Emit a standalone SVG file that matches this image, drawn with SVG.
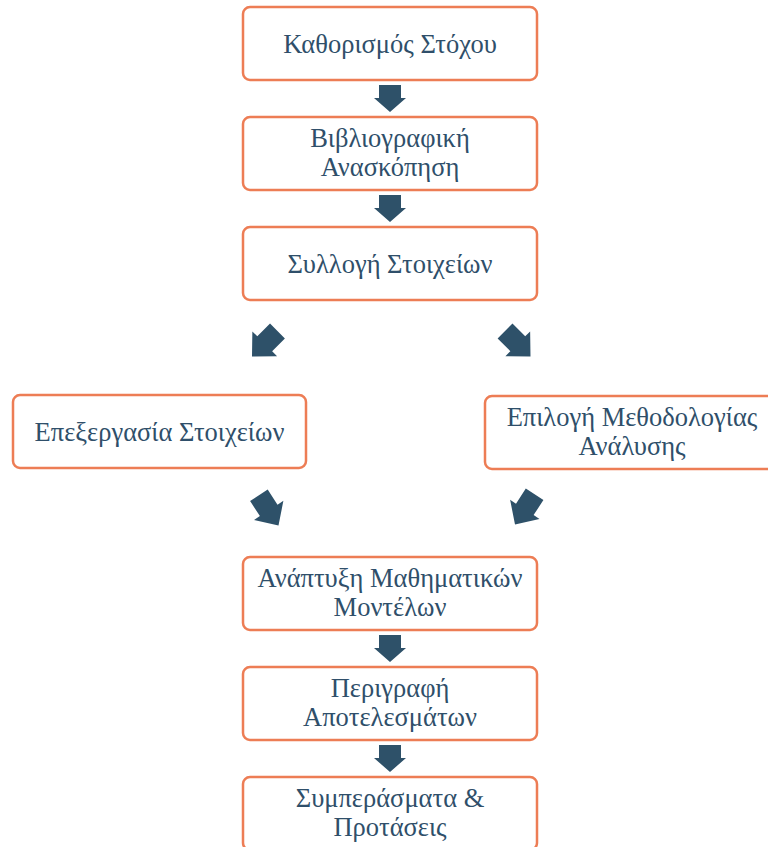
<svg xmlns="http://www.w3.org/2000/svg" width="768" height="847" viewBox="0 0 768 847">
<style>
.box{fill:#ffffff;stroke:#ED7D55;stroke-width:2.5}
.lbl{font-family:"Liberation Serif","Times New Roman",serif;font-size:26.5px;fill:#2F4F6A;text-anchor:middle}
.arr{fill:#2E5169}
</style>
<defs>
<polygon id="down" points="-11,-27 11,-27 11,-14 16,-14 0,0 -16,-14 -11,-14"/>
<polygon id="diag" points="-10.5,-36 10.5,-36 10.5,-18 17.5,-18 0,0 -17.5,-18 -10.5,-18"/>
</defs>
<g id="connectors">
<use href="#down" class="arr" transform="translate(390,112)"/>
<use href="#down" class="arr" transform="translate(390,222)"/>
<use href="#diag" class="arr" transform="translate(252,356.5) rotate(45)"/>
<use href="#diag" class="arr" transform="translate(530.5,356.5) rotate(-45)"/>
<use href="#diag" class="arr" transform="translate(278.5,525.5) rotate(-33)"/>
<use href="#diag" class="arr" transform="translate(515,524.5) rotate(33)"/>
<use href="#down" class="arr" transform="translate(390,662)"/>
<use href="#down" class="arr" transform="translate(390,772)"/>
</g>
<g id="n1"><rect class="box" x="243" y="7" width="294" height="73" rx="7"/><text class="lbl" x="390" y="53">Καθορισμός Στόχου</text></g>
<g id="n2"><rect class="box" x="243" y="117" width="294" height="73" rx="7"/><text class="lbl" x="390" y="147">Βιβλιογραφική</text><text class="lbl" x="390" y="176">Ανασκόπηση</text></g>
<g id="n3"><rect class="box" x="243" y="227" width="294" height="73" rx="7"/><text class="lbl" x="390" y="273">Συλλογή Στοιχείων</text></g>
<g id="n4"><rect class="box" x="13" y="395" width="293" height="73" rx="7"/><text class="lbl" x="159.5" y="441">Επεξεργασία Στοιχείων</text></g>
<g id="n5"><rect class="box" x="485" y="396" width="294" height="73" rx="7"/><text class="lbl" x="632" y="426">Επιλογή Μεθοδολογίας</text><text class="lbl" x="632" y="455">Ανάλυσης</text></g>
<g id="n6"><rect class="box" x="243" y="557" width="294" height="73" rx="7"/><text class="lbl" x="390" y="587">Ανάπτυξη Μαθηματικών</text><text class="lbl" x="390" y="616">Μοντέλων</text></g>
<g id="n7"><rect class="box" x="243" y="667" width="294" height="73" rx="7"/><text class="lbl" x="390" y="697">Περιγραφή</text><text class="lbl" x="390" y="726">Αποτελεσμάτων</text></g>
<g id="n8"><rect class="box" x="243" y="777" width="294" height="73" rx="7"/><text class="lbl" x="390" y="807">Συμπεράσματα &amp;</text><text class="lbl" x="390" y="836">Προτάσεις</text></g>
</svg>
